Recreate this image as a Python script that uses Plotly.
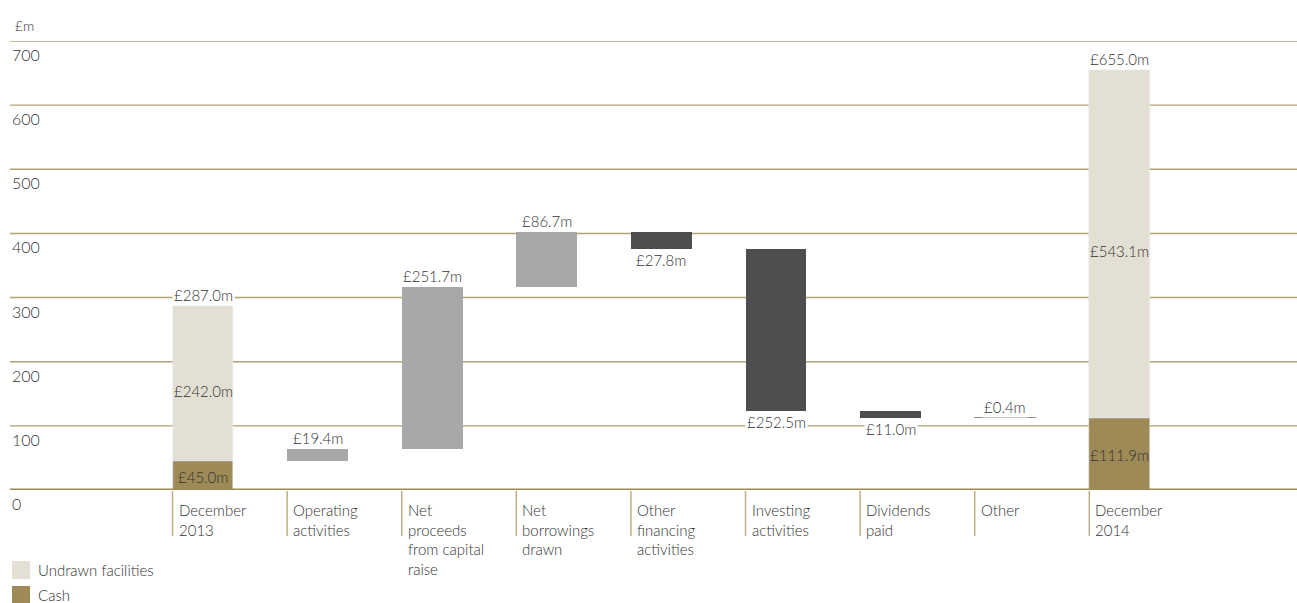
import plotly.graph_objects as go

# ---------------- data ----------------
categories = ["December\n2013", "Operating\nactivities", "Net\nproceeds\nfrom capital\nraise",
              "Net\nborrowings\ndrawn", "Other\nfinancing\nactivities", "Investing\nactivities",
              "Dividends\npaid", "Other", "December\n2014"]
cash = [45.0, 111.9]          # December 2013, December 2014
undrawn = [242.0, 543.1]      # December 2013, December 2014
movements = [19.4, 251.7, 86.7, -27.8, -252.5, -11.0, 0.4]
y_ticks = [0, 100, 200, 300, 400, 500, 600, 700]

# ---------------- style ----------------
C_UNDRAWN = "#e3dfd3"
C_CASH = "#9e8a56"
C_UP = "#a7a8aa"
C_DOWN = "#4d4e50"
C_GRID = "#b2a273"
C_TEXT = "#333333"
FONT = "Lato"
FW = 300
W, H = 1297, 603
L, R, T, B = 10, 0, 41, 113
plot_h = H - T - B
BAR_W = 0.532
X_RANGE = [-1.6841, 9.5462]

def py_to_paper(py):
    return (H - B - py) / plot_h

n = len(categories)
xs = list(range(n))

fig = go.Figure()

# start / end stacked bars
fig.add_trace(go.Bar(x=[0, n - 1], y=cash, base=[0, 0], marker_color=C_CASH,
                     width=BAR_W, name="Cash", showlegend=False))
fig.add_trace(go.Bar(x=[0, n - 1], y=undrawn, base=cash, marker_color=C_UNDRAWN,
                     width=BAR_W, name="Undrawn facilities", showlegend=False))

# floating movement bars
bases, heights, colors, lw = [], [], [], []
level = cash[0]
for m in movements:
    lo = level if m >= 0 else level + m
    bases.append(lo)
    heights.append(abs(m))
    colors.append(C_UP if m >= 0 else C_DOWN)
    lw.append(1 if abs(m) < 1 else 0)
    level += m
fig.add_trace(go.Bar(x=xs[1:n - 1], y=heights, base=bases,
                     marker=dict(color=colors, line=dict(color="#888888", width=lw)),
                     width=BAR_W, name="Movements", showlegend=False))

annotations = []
shapes = []

# gridlines (drawn below the bars)
for v in y_ticks[1:]:
    shapes.append(dict(type="line", xref="paper", yref="y", x0=0, x1=1, y0=v, y1=v,
                       line=dict(color=C_GRID, width=1.4), layer="below"))

def fnt(size):
    return dict(family=FONT, size=size, color=C_TEXT, weight=FW)

def lab(x, y, text, anchor, yshift=0, bg="white"):
    annotations.append(dict(x=x, y=y, xref="x", yref="y", text=text, showarrow=False,
                            yanchor=anchor, xanchor="center", yshift=yshift,
                            bgcolor=bg, borderpad=1, font=fnt(15)))

# total labels
for i, idx in enumerate([0, n - 1]):
    total = cash[i] + undrawn[i]
    lab(idx, total, f"£{total:.1f}m", "bottom", 0)
    lab(idx, cash[i] + undrawn[i] / 2, f"£{undrawn[i]:.1f}m", "middle", -7, bg="rgba(0,0,0,0)")
    lab(idx, cash[i] / 2, f"£{cash[i]:.1f}m", "middle", -1, bg="rgba(0,0,0,0)")

# movement labels
for k, m in enumerate(movements):
    idx = k + 1
    if m >= 0:
        lab(idx, bases[k] + heights[k], f"£{abs(m):.1f}m", "bottom", 0)
    else:
        lab(idx, bases[k], f"£{abs(m):.1f}m", "top", 0)

# y tick labels (below gridlines)
for v in y_ticks:
    annotations.append(dict(x=0, y=v, xref="paper", yref="y", text=str(v), showarrow=False,
                            xanchor="left", yanchor="top", yshift=-2, xshift=0, font=fnt(16)))
annotations.append(dict(x=0, y=py_to_paper(26), xref="paper", yref="paper", text="£m",
                        showarrow=False, xanchor="left", yanchor="middle", xshift=3, font=fnt(14)))

# category labels and tick lines
for i, c in enumerate(categories):
    left = i - BAR_W / 2
    shapes.append(dict(type="line", xref="x", yref="paper", x0=left, x1=left,
                       y0=py_to_paper(491), y1=py_to_paper(536),
                       line=dict(color="#bfae82", width=1.5)))
    annotations.append(dict(x=left, y=py_to_paper(499), xref="x", yref="paper",
                            text=c.replace("\n", "<br>"), showarrow=False,
                            xanchor="left", yanchor="top", align="left", xshift=4, font=fnt(15)))

# baseline
shapes.append(dict(type="line", xref="paper", yref="y", x0=0, x1=1, y0=0, y1=0,
                   line=dict(color=C_CASH, width=3), layer="above"))

# custom legend
for j, (name, col) in enumerate([("Undrawn facilities", C_UNDRAWN), ("Cash", C_CASH)]):
    cy = 570 + 25 * j
    shapes.append(dict(type="rect", xref="paper", yref="paper",
                       x0=2 / (W - L - R), x1=20 / (W - L - R),
                       y0=py_to_paper(cy - 9), y1=py_to_paper(cy + 9),
                       fillcolor=col, line=dict(width=0)))
    annotations.append(dict(x=27 / (W - L - R), y=py_to_paper(cy), xref="paper", yref="paper",
                            text=name, showarrow=False, xanchor="left", yanchor="middle",
                            borderpad=0, font=fnt(15)))

fig.update_layout(
    width=W, height=H,
    margin=dict(l=L, r=R, t=T, b=B, pad=0),
    plot_bgcolor="white", paper_bgcolor="white",
    barmode="overlay", bargap=0,
    showlegend=False,
    xaxis=dict(range=X_RANGE, showticklabels=False, showgrid=False, zeroline=False,
               showline=False, ticks=""),
    yaxis=dict(range=[0, 700], tickvals=y_ticks, showticklabels=False, showgrid=False,
               zeroline=False, showline=False, ticks=""),
    annotations=annotations,
    shapes=shapes,
    font=dict(family=FONT, color=C_TEXT),
)

fig.write_html("out.html")
